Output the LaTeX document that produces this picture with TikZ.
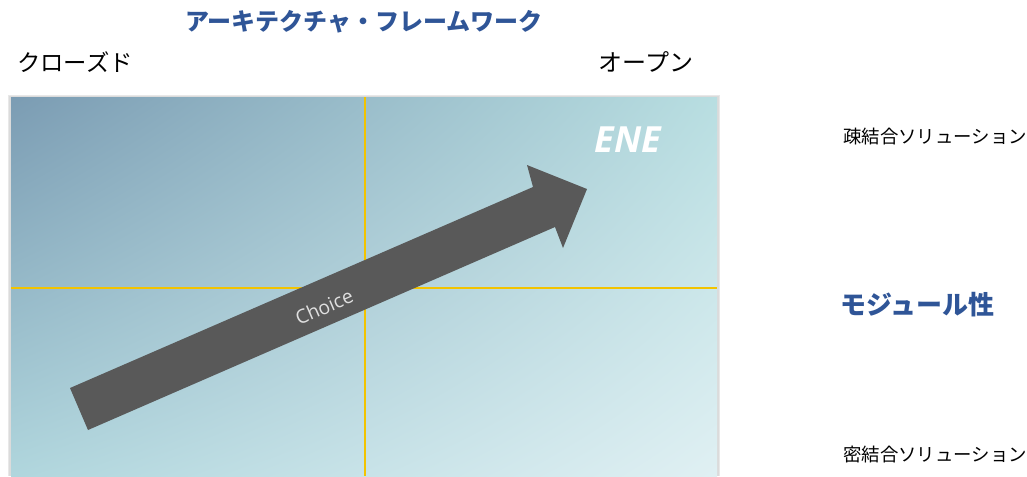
\documentclass[tikz,border=0pt]{standalone}
\usepackage{fontspec}
\usetikzlibrary{shadings}
\newfontfamily\jp{Noto Sans CJK JP}
\newfontfamily\ene{Open Sans}
\definecolor{titleblue}{HTML}{2F5597}
\definecolor{arrowgray}{HTML}{595959}
\definecolor{gridyellow}{HTML}{F2C300}
\definecolor{cUL}{HTML}{7B9CB3}
\definecolor{cUR}{HTML}{B8DEE1}
\definecolor{cLL}{HTML}{B0D6DD}
\definecolor{cLR}{HTML}{E0F0F3}
\tikzset{
  jptext/.style={font=\jp\fontsize{#1}{#1}\selectfont, text=black, inner sep=0pt},
  jpblue/.style={font=\jp\bfseries\fontsize{#1}{#1}\selectfont, text=titleblue, inner sep=0pt},
  gridline/.style={draw=gridyellow, line width=0.9pt},
}
\begin{document}
\begin{tikzpicture}[x=0.75pt,y=-0.75pt]
\useasboundingbox (0,0) rectangle (1027,476);
% shadow + panel
\fill[black!9] (8,95) rectangle (720,476);
\fill[black!14] (9,96) rectangle (719,476);
\shade[upper left=cUL, upper right=cUR, lower left=cLL, lower right=cLR] (11,97) rectangle (717,476);
% grid lines
\draw[gridline] (365,97) -- (365,476);
\draw[gridline] (11,288) -- (717,288);
% big arrow
\fill[arrowgray] (70,388) -- (533,187) -- (527,165) -- (587,189) -- (563,248) -- (555,227) -- (88,430) -- cycle;
\node[font=\ene\fontsize{14.5}{14.5}\selectfont, text=white!88!black, rotate=23.5, inner sep=0pt] (choice) at (324,307) {Choice};
\node[font=\ene\bfseries\itshape\fontsize{27}{27}\selectfont, text=white, inner sep=0pt] (ene) at (628,140) {ENE};
% titles
\node[jpblue=18] (title) at (364,22) {アーキテクチャ・フレームワーク};
\node[jptext=17.5] (closed) at (75,62) {クローズド};
\node[jptext=18] (open) at (646,62) {オープン};
% right labels
\node[jptext=13.8, anchor=west] (loose) at (843,137) {疎結合ソリューション};
\node[jpblue=19.5, anchor=west] (modular) at (840,305) {モジュール性};
\node[jptext=13.8, anchor=west] (tight) at (843,455) {密結合ソリューション};
\end{tikzpicture}
\end{document}
